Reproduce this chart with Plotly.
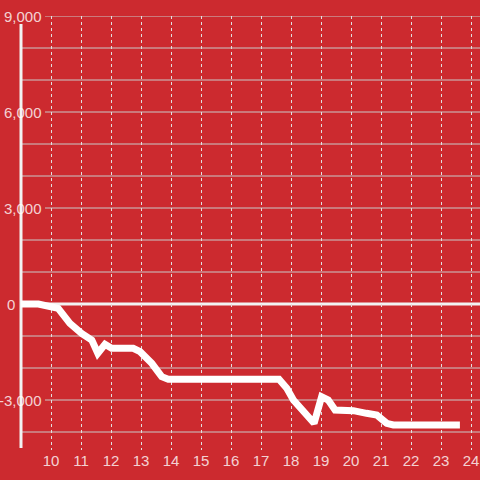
import plotly.graph_objects as go

# Data (x = hour of day, y = value)
hours = [9.0, 9.58, 10.24, 10.63, 11.02, 11.36, 11.56, 11.8, 12.02, 12.74, 12.97,
         13.36, 13.69, 13.91, 17.6, 17.86, 18.08, 18.41, 18.77, 19.02, 19.24,
         19.47, 20.08, 20.52, 20.86, 21.19, 21.41, 23.63]
values = [0, 0, -135, -604, -917, -1125, -1540, -1260, -1385, -1385, -1490,
          -1853, -2271, -2353, -2353, -2635, -3000, -3365, -3728, -2897, -3000,
          -3312, -3334, -3416, -3469, -3728, -3781, -3781]

x_ticks = list(range(10, 25))
y_major = [-3000, 0, 3000, 6000, 9000]
y_major_labels = ["-3,000", "0", "3,000", "6,000", "9,000"]
y_minor = [-4000, -2000, -1000, 1000, 2000, 4000, 5000, 7000, 8000]

BG = "#cc2a2f"
GRID = "#c9c9c9"
LABEL = "rgba(255,255,255,0.8)"
FONT = "Liberation Sans, Arial, sans-serif"

fig = go.Figure()
fig.add_trace(go.Scatter(
    x=hours, y=values, mode="lines",
    line=dict(color="#ffffff", width=7),
    hoverinfo="skip", showlegend=False,
))

shapes = []
for v in y_minor:
    shapes.append(dict(type="line", xref="x", yref="y", x0=9.03, x1=24.3, y0=v, y1=v,
                       line=dict(color=GRID, width=1), layer="below"))
for v in y_major:
    if v == 0:
        continue
    shapes.append(dict(type="line", xref="x", yref="y", x0=9.8, x1=24.3, y0=v, y1=v,
                       line=dict(color=GRID, width=1), layer="below"))
# zero line
shapes.append(dict(type="line", xref="x", yref="y", x0=8.97, x1=24.3, y0=0, y1=0,
                   line=dict(color="#f2f2f2", width=3), layer="below"))
# y axis line
shapes.append(dict(type="line", xref="x", yref="y", x0=9, x1=9, y0=8750, y1=-4500,
                   line=dict(color="#f2f2f2", width=3), layer="below"))

annotations = []
for v, t in zip(y_major, y_major_labels):
    right_px = 17 if v == 0 else 44
    annotations.append(dict(xref="paper", yref="y", x=right_px / 480, y=v, text=t,
                            xanchor="right", yanchor="middle", showarrow=False,
                            font=dict(size=15, color=LABEL, family=FONT)))

fig.update_layout(
    width=480, height=480,
    margin=dict(l=0, r=0, t=16, b=30),
    paper_bgcolor=BG, plot_bgcolor=BG,
    shapes=shapes, annotations=annotations,
    xaxis=dict(range=[8.3, 24.3], tickvals=x_ticks, ticktext=[str(t) for t in x_ticks],
               showgrid=True, gridcolor="#e0e0e0", griddash="dot", gridwidth=1,
               zeroline=False, showline=False, ticks="",
               tickfont=dict(size=15, color=LABEL, family=FONT)),
    yaxis=dict(range=[-4562.5, 9000], showgrid=False, zeroline=False,
               showticklabels=False, showline=False),
)

fig.write_html("out.html", config={"displayModeBar": False, "staticPlot": True},
               post_script="document.body.style.margin='0';document.body.style.overflow='hidden';")
